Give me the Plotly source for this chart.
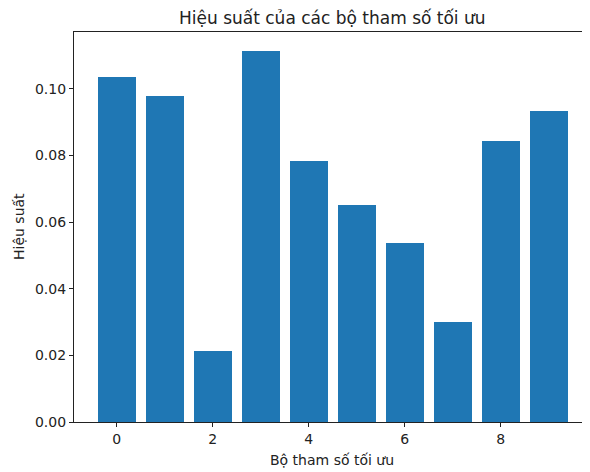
import plotly.graph_objects as go

categories = [0, 1, 2, 3, 4, 5, 6, 7, 8, 9]
values = [0.1037, 0.0980, 0.0212, 0.1115, 0.0784, 0.0652, 0.0538, 0.0301, 0.0843, 0.0935]
y_ticks = [0.00, 0.02, 0.04, 0.06, 0.08, 0.10]
x_ticks = [0, 2, 4, 6, 8]

fig = go.Figure(go.Bar(x=categories, y=values, width=0.8,
                       marker=dict(color="#1f77b4", line=dict(width=0))))

font = "DejaVu Sans"
# page body has an 8px margin, so the figure is offset by 8px
fig.update_layout(
    width=582, height=464,
    margin=dict(l=66, r=0, t=24, b=50),
    plot_bgcolor="white", paper_bgcolor="white",
    font=dict(family=font, size=14, color="#222"),
    showlegend=False,
    bargap=0,
)
fig.update_xaxes(range=[-0.89, 9.86], tickvals=x_ticks, ticktext=[str(v) for v in x_ticks],
                 showgrid=False, zeroline=False, showline=True, linecolor="#222", linewidth=1.2,
                 mirror=True, ticks="outside", ticklen=4, tickcolor="#222")
fig.update_yaxes(range=[0, 0.1171], tickvals=y_ticks, ticktext=[f"{v:.2f}" for v in y_ticks],
                 showgrid=False, zeroline=False, showline=True, linecolor="#222", linewidth=1.2,
                 ticks="outside", ticklen=4, tickcolor="#222")

fig.add_annotation(text="Hiệu suất của các bộ tham số tối ưu", xref="paper", yref="paper",
                   x=0.5, y=1, yshift=2, xanchor="center", yanchor="bottom", showarrow=False,
                   font=dict(family=font, size=17, color="#222"))
fig.add_annotation(text="Bộ tham số tối ưu", xref="paper", yref="paper",
                   x=0.5, y=0, yshift=-28, xanchor="center", yanchor="top", showarrow=False,
                   font=dict(family=font, size=14, color="#222"))
fig.add_annotation(text="Hiệu suất", xref="paper", yref="paper", textangle=-90,
                   x=0, xshift=-55, y=0.5, xanchor="center", yanchor="middle", showarrow=False,
                   font=dict(family=font, size=14, color="#222"))

fig.write_html("out.html")
